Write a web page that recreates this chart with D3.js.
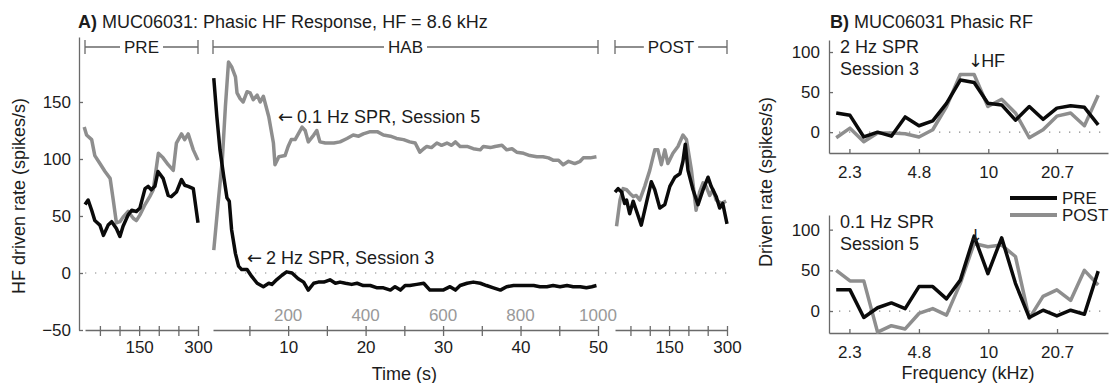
<!DOCTYPE html>
<html>
<head>
<meta charset="utf-8">
<script src="https://cdn.jsdelivr.net/npm/d3@7"></script>
<style>
body { margin: 0; background: #fff; }
svg { font-family: "Liberation Sans", Arial, Helvetica, sans-serif; }
.arw { font-family: "DejaVu Sans", sans-serif; }
</style>
</head>
<body>
<svg width="1115" height="383"></svg>
<script>
// ---- panel A: HF driven rate over time, [time, rate] ----
let preBlack = [[12,60],[20,64],[29,55],[37,46],[50,42],[59,33],[71,42],[80,45],[92,39],[101,32],[109,41],[122,51],[131,55],[143,54],[152,57],[165,74],[173,76],[181,73],[190,76],[198,89],[211,83],[224,68],[232,67],[245,71],[258,82],[266,77],[275,76],[288,74],[300,44]]
let preGray = [[10,128],[16,121],[29,117],[37,103],[50,96],[63,89],[76,83],[84,64],[92,44],[101,45],[109,49],[122,54],[135,48],[143,46],[152,51],[165,60],[177,67],[186,73],[199,105],[211,101],[224,95],[237,90],[245,114],[258,122],[266,117],[275,122],[288,108],[300,99]]

let habBlack = [[0.4,171],[0.8,137],[1.2,108],[1.7,84],[2.1,66],[2.4,63],[2.7,38],[3.2,17],[3.6,6],[4.0,3],[4.7,3],[5.3,-3],[6.0,-9],[6.8,-12],[7.5,-9],[7.9,-10],[8.5,-6],[9.2,-2],[9.8,1],[10.5,0],[11.3,-5],[12.0,-8],[12.6,-15],[13.3,-9],[13.9,-8],[14.6,-8],[15.4,-6],[16.1,-9],[16.7,-8],[17.4,-9],[18.2,-10],[18.9,-9],[19.7,-11],[20.6,-11],[21.5,-13],[22.3,-13],[23.2,-15],[23.8,-12],[24.5,-15],[25.1,-11],[25.7,-11],[26.6,-10],[27.5,-9],[28.3,-15],[29.2,-15],[30.0,-15],[30.9,-12],[31.6,-15],[32.2,-11],[33.1,-9],[33.9,-8],[34.8,-9],[35.6,-11],[36.5,-13],[37.4,-15],[38.2,-12],[39.1,-11],[39.9,-11],[40.8,-11],[41.7,-11],[42.5,-12],[43.4,-12],[44.2,-11],[45.1,-12],[46.0,-11],[46.8,-12],[47.7,-12],[48.5,-13],[49.2,-12],[49.8,-11]]
let habGray = [[0.4,20],[1.0,64],[1.5,99],[1.9,146],[2.3,185],[2.7,181],[3.2,172],[3.4,158],[3.8,153],[4.2,150],[4.7,159],[5.1,158],[5.5,152],[6.0,156],[6.4,150],[6.8,155],[7.5,137],[8.1,114],[8.3,95],[8.8,102],[9.6,103],[10.0,111],[10.4,117],[10.9,117],[11.8,128],[12.2,125],[12.6,115],[13.3,121],[13.7,125],[14.1,115],[14.8,114],[15.9,114],[16.7,115],[17.6,118],[18.4,121],[19.1,120],[19.7,122],[20.6,124],[21.5,124],[22.3,121],[23.2,120],[24.0,118],[24.9,117],[25.7,115],[26.4,114],[27.0,106],[27.5,109],[27.9,111],[28.5,110],[29.2,114],[29.8,112],[30.5,114],[31.1,112],[31.6,115],[32.2,111],[33.1,111],[33.9,109],[34.8,108],[35.2,111],[36.1,110],[36.7,111],[37.6,112],[38.2,108],[38.9,109],[39.5,106],[40.4,105],[41.2,103],[42.1,102],[42.9,102],[43.6,101],[44.2,99],[44.9,99],[45.5,95],[46.2,98],[47.0,96],[47.7,98],[48.1,101],[49.0,101],[49.8,102]]

let postBlack = [[10,71],[18,74],[27,71],[35,61],[40,64],[48,52],[57,63],[65,55],[78,42],[91,61],[104,80],[113,73],[126,57],[139,60],[152,76],[165,84],[178,87],[186,98],[192,113],[199,90],[212,73],[225,60],[238,73],[251,84],[259,76],[272,67],[281,57],[289,61],[300,43]]
let postGray = [[14,41],[23,64],[31,74],[40,73],[48,70],[57,67],[65,68],[74,64],[87,76],[100,90],[113,108],[121,108],[130,95],[139,108],[147,96],[160,105],[173,111],[186,121],[195,117],[208,90],[220,55],[229,71],[238,79],[246,76],[255,68],[264,73],[272,64],[285,61],[298,63]]

let yTicksA = [-50, 0, 50, 100, 150]
let preTicks = [50, 100, 150, 200, 250, 300]
let preLabels = [150, 300]
let habTicks = [5, 10, 15, 20, 25, 30, 35, 40, 45, 50]
let habLabels = [10, 20, 30, 40, 50]
let habTrialLabels = ['200', '400', '600', '800', '1000']
let postTicks = [50, 100, 150, 200, 250, 300]
let postLabels = [150, 300]

// ---- panel B: tuning curves, rate per frequency ----
let freqs = [2.0, 2.314, 2.678, 3.099, 3.586, 4.149, 4.801, 5.555, 6.428, 7.438, 8.607, 9.959, 11.52, 13.33, 15.43, 17.85, 20.66, 23.9, 27.66, 32.0]
let rfTopPre = [24, 21, -6, 0, -5, 19, 8, 14, 36, 65, 62, 36, 34, 15, 32, 16, 30, 33, 31, 9]
let rfTopPost = [-7, 5, -12, -1, -1, -2, -6, 3, 32, 72, 72, 32, 41, 24, -7, 3, 20, 24, 8, 46]
let rfBotPre = [26, 26, -8, 4, 10, 3, 30, 30, 15, 38, 92, 46, 90, 34, -8, 1, -6, 1, -4, 49]
let rfBotPost = [50, 37, 37, -26, -18, -22, -3, 3, -5, 34, 83, 79, 81, 67, -9, 18, 26, 13, 50, 32]
let freqTicks = [2.3, 4.8, 10, 20.7]
let yTicksB = [0, 50, 100]
let hf = 8.6

let svg = d3.select('svg')
let txt = '#1c1c1c'
let axc = '#6a6a6a'
let gry = '#8e8e8e'
let blk = '#0a0a0a'

let styleAxis = (g, size) => {
    g.selectAll('path, line').attr('stroke', axc).attr('stroke-width', 1.3)
    g.selectAll('text').attr('fill', txt).style('font-size', size + 'px')
    g.attr('font-family', null)
}

// ---------------- panel A ----------------
let yA = d3.scaleLinear().domain([-50, 207]).range([330, 37])
let xPre = d3.scaleLinear().domain([12, 300]).range([85, 198])
let xHab = d3.scaleLinear().domain([0.3, 50]).range([213, 598])
let xPost = d3.scaleLinear().domain([10, 300]).range([615, 727])

svg.append('text')
    .attr('x', 78).attr('y', 28)
    .attr('fill', txt).style('font-size', '18px')
    .call(t => {
        t.append('tspan').attr('font-weight', 'bold').text('A)')
        t.append('tspan').text(' MUC06031: Phasic HF Response, HF = 8.6 kHz')
    })

// dotted zero line
svg.append('line')
    .attr('x1', xPre.range()[0]).attr('x2', xPost.range()[1])
    .attr('y1', yA(0)).attr('y2', yA(0))
    .attr('stroke', '#888').attr('stroke-width', 1.2)
    .attr('stroke-dasharray', '1.3 8.7')

svg.append('g')
    .attr('transform', `translate(79,0)`)
    .call(d3.axisLeft(yA).tickValues(yTicksA).tickSizeInner(-4).tickSizeOuter(0).tickPadding(8))
    .call(g => styleAxis(g, 17))

let timeAxis = (scale, ticks, labels) => {
    svg.append('g')
        .attr('transform', `translate(0,330)`)
        .call(d3.axisBottom(scale).tickValues(ticks).tickSizeInner(6).tickSizeOuter(0).tickPadding(5)
            .tickFormat(d => labels.includes(d) ? d : ''))
        .call(g => g.selectAll('.tick line').attr('y1', -4))
        .call(g => styleAxis(g, 17))
}
timeAxis(xPre, preTicks, preLabels)
timeAxis(xHab, habTicks, habLabels)
timeAxis(xPost, postTicks, postLabels)

svg.append('g').selectAll('text')
    .data(habLabels)
    .enter()
    .append('text')
    .attr('x', d => xHab(d))
    .attr('y', 321)
    .attr('text-anchor', 'middle')
    .attr('fill', '#999')
    .style('font-size', '17px')
    .text((d, i) => habTrialLabels[i])

svg.append('text')
    .attr('x', xHab(25)).attr('y', 380)
    .attr('text-anchor', 'middle')
    .attr('fill', txt).style('font-size', '18px')
    .text('Time (s)')

svg.append('text')
    .attr('transform', 'translate(25,196) rotate(-90)')
    .attr('text-anchor', 'middle')
    .attr('fill', txt).style('font-size', '18px')
    .text('HF driven rate (spikes/s)')

// phase brackets
let bracket = (scale, label) => {
    let [a, b] = scale.range()
    let y = 47
    let g = svg.append('g')
    let t = g.append('text')
        .attr('x', (a + b) / 2).attr('y', y + 6)
        .attr('text-anchor', 'middle')
        .attr('fill', txt).style('font-size', '17px')
        .text(label)
    let w = t.node().getComputedTextLength() / 2 + 4
    let m = (a + b) / 2
    g.append('path')
        .attr('d', `M${a},${y - 7}V${y + 7}M${a},${y}H${m - w}M${m + w},${y}H${b}M${b},${y - 7}V${y + 7}`)
        .attr('fill', 'none').attr('stroke', axc).attr('stroke-width', 1.3)
}
bracket(xPre, 'PRE')
bracket(xHab, 'HAB')
bracket(xPost, 'POST')

let drawSeries = (data, scale, color) => {
    svg.append('path')
        .datum(data)
        .attr('d', d3.line().x(d => scale(d[0])).y(d => yA(d[1])))
        .attr('fill', 'none')
        .attr('stroke', color)
        .attr('stroke-width', 3.5)
        .attr('stroke-linejoin', 'round')
}
drawSeries(preGray, xPre, gry)
drawSeries(preBlack, xPre, blk)
drawSeries(habGray, xHab, gry)
drawSeries(habBlack, xHab, blk)
drawSeries(postGray, xPost, gry)
drawSeries(postBlack, xPost, blk)

let note = (x, y, label) => {
    let t = svg.append('text')
        .attr('x', x).attr('y', y)
        .attr('fill', txt).style('font-size', '18px')
    t.append('tspan').attr('class', 'arw').text('\u2190')
    t.append('tspan').attr('dx', 4).text(label)
}
note(278, 123, '0.1 Hz SPR, Session 5')
note(247, 264, '2 Hz SPR, Session 3')

// ---------------- panel B ----------------
let xB = d3.scaleLog().domain([1.853, 35.5]).range([829, 1108])
let yTop = d3.scaleLinear().domain([-26, 115]).range([153, 40])
let yBot = d3.scaleLinear().domain([-27, 118]).range([333, 215])

svg.append('text')
    .attr('x', 830).attr('y', 28)
    .attr('fill', txt).style('font-size', '18px')
    .call(t => {
        t.append('tspan').attr('font-weight', 'bold').text('B)')
        t.append('tspan').text(' MUC06031 Phasic RF')
    })

let rfPanel = (yS, pre, post, line1, line2, hfLabel) => {
    let [y0, y1] = yS.range()
    svg.append('line')
        .attr('x1', xB.range()[0]).attr('x2', xB.range()[1])
        .attr('y1', yS(0)).attr('y2', yS(0))
        .attr('stroke', '#888').attr('stroke-width', 1.2)
        .attr('stroke-dasharray', '1.3 8.7')
    svg.append('g')
        .attr('transform', `translate(${xB.range()[0]},0)`)
        .call(d3.axisLeft(yS).tickValues(yTicksB).tickSizeInner(-4).tickSizeOuter(0).tickPadding(9))
        .call(g => styleAxis(g, 17))
    svg.append('g')
        .attr('transform', `translate(0,${y0})`)
        .call(d3.axisBottom(xB).tickValues(freqTicks).tickSizeInner(-4).tickSizeOuter(0).tickPadding(13)
            .tickFormat(d => d))
        .call(g => styleAxis(g, 17))
    let line = d3.line().x((d, i) => xB(freqs[i])).y(d => yS(d))
    svg.append('path').datum(post)
        .attr('d', line).attr('fill', 'none')
        .attr('stroke', gry).attr('stroke-width', 3.5).attr('stroke-linejoin', 'round')
    svg.append('path').datum(pre)
        .attr('d', line).attr('fill', 'none')
        .attr('stroke', blk).attr('stroke-width', 3.5).attr('stroke-linejoin', 'round')
    svg.append('text')
        .attr('x', 840).attr('y', y1 + 13)
        .attr('fill', txt).style('font-size', '18px')
        .text(line1)
    svg.append('text')
        .attr('x', 840).attr('y', y1 + 35)
        .attr('fill', txt).style('font-size', '18px')
        .text(line2)
    let a = svg.append('text')
        .attr('x', xB(hf)).attr('y', y1 + 27)
        .attr('dx', -6)
        .attr('fill', txt).style('font-size', '18px')
    a.append('tspan').attr('class', 'arw').text('\u2193')
    a.append('tspan').attr('dx', -2).text(hfLabel)
}
rfPanel(yTop, rfTopPre, rfTopPost, '2 Hz SPR', 'Session 3', 'HF')
rfPanel(yBot, rfBotPre, rfBotPost, '0.1 Hz SPR', 'Session 5', '')

svg.append('text')
    .attr('transform', 'translate(772,182) rotate(-90)')
    .attr('text-anchor', 'middle')
    .attr('fill', txt).style('font-size', '18px')
    .text('Driven rate (spikes/s)')

svg.append('text')
    .attr('x', 968).attr('y', 379)
    .attr('text-anchor', 'middle')
    .attr('fill', txt).style('font-size', '18px')
    .text('Frequency (kHz)')

// legend
let legend = [['PRE', blk], ['POST', gry]]
let lg = svg.append('g').selectAll('g')
    .data(legend)
    .enter()
    .append('g')
    .attr('transform', (d, i) => `translate(1010,${198 + i * 17})`)
lg.append('line')
    .attr('x1', 0).attr('x2', 47)
    .attr('stroke', d => d[1]).attr('stroke-width', 4)
lg.append('text')
    .attr('x', 52).attr('y', 6)
    .attr('fill', txt).style('font-size', '17px')
    .text(d => d[0])
</script>
</body>
</html>
